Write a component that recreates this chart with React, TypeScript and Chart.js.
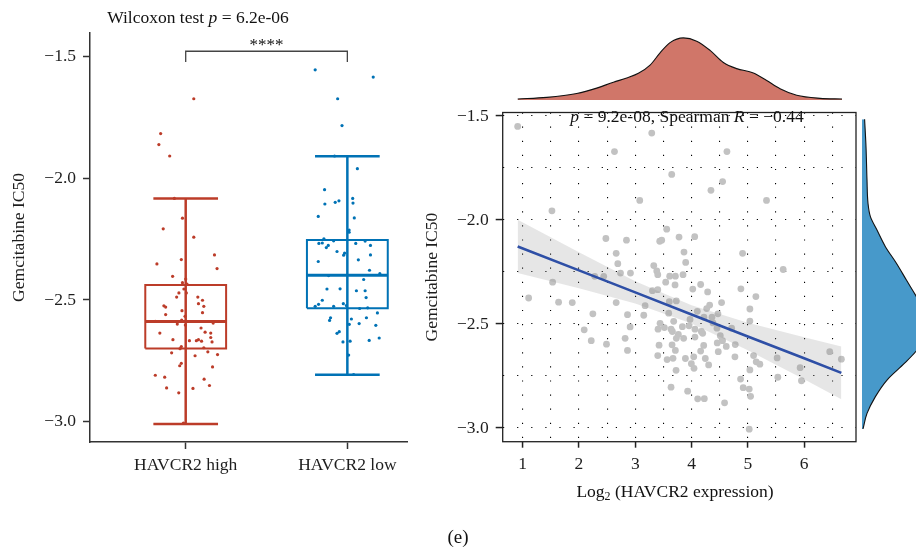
import React, { useEffect, useRef } from "react";
import { Chart, registerables } from "chart.js";

Chart.register(...registerables);

const FONT_FAMILY = "'Liberation Serif', 'DejaVu Serif', serif";
const FONT_SIZE = 17.5;
const RED = "#BC3C29";
const BLUE = "#0072B5";
const INK = "#1e1e1e";
const AXIS = "#333333";

// ---------------- Left panel: box plot ----------------
const groupLabels = ["HAVCR2 high", "HAVCR2 low"];
const groupColors = [RED, BLUE];

const highIC50 = [
  -1.674, -1.817, -1.862, -1.909, -2.083, -2.164, -2.208, -2.242, -2.352, -2.315,
  -2.371, -2.334, -2.403, -2.414, -2.429, -2.435, -2.455, -2.471, -2.471, -2.488,
  -2.488, -2.501, -2.515, -2.526, -2.524, -2.529, -2.544, -2.56, -2.552, -2.567,
  -2.583, -2.588, -2.595, -2.599, -2.603, -2.615, -2.632, -2.636, -2.636, -2.654,
  -2.663, -2.667, -2.667, -2.663, -2.669, -2.672, -2.691, -2.7, -2.696, -2.717,
  -2.713, -2.724, -2.729, -2.76, -2.77, -2.775, -2.809, -2.817, -2.825, -2.861,
  -2.863, -2.851, -2.881, -3.005,
];
const highJitter = [
  0.05, -0.155, -0.166, -0.099, -0.07, -0.02, -0.139, 0.05, -0.178, 0.178,
  0.194, -0.027, -0.081, 0.0, -0.02, 0.008, -0.011, -0.042, 0.004, -0.056,
  0.075, 0.104, 0.079, 0.112, -0.135, -0.124, -0.023, -0.124, 0.104, -0.004,
  -0.025, -0.188, 0.17, -0.052, -0.002, 0.095, 0.12, -0.16, 0.155, 0.155,
  -0.079, 0.023, 0.066, 0.079, 0.098, 0.163, -0.027, -0.035, 0.112, -0.087,
  0.137, 0.197, 0.058, -0.027, -0.037, 0.166, -0.188, -0.13, 0.114, -0.118,
  0.045, 0.147, -0.043, -0.014,
];
const lowIC50 = [
  -1.555, -1.585, -1.674, -1.784, -1.909, -1.961, -2.047, -2.106, -2.099, -2.093,
  -2.083, -2.102, -2.157, -2.163, -2.213, -2.222, -2.249, -2.268, -2.266, -2.276,
  -2.285, -2.257, -2.268, -2.258, -2.276, -2.301, -2.308, -2.316, -2.315, -2.342,
  -2.335, -2.378, -2.392, -2.4, -2.416, -2.455, -2.454, -2.462, -2.462, -2.501,
  -2.518, -2.526, -2.526, -2.515, -2.523, -2.49, -2.535, -2.532, -2.553, -2.573,
  -2.584, -2.578, -2.573, -2.6, -2.597, -2.604, -2.63, -2.637, -2.672, -2.669,
  -2.666, -2.656, -2.726, -2.806,
];
const lowJitter = [
  -0.199, 0.16, -0.06, -0.033, -0.079, 0.062, -0.141, -0.139, -0.075, -0.052,
  0.033, 0.035, -0.18, 0.043, 0.011, 0.011, -0.145, -0.176, -0.155, -0.118,
  -0.13, -0.085, 0.052, 0.11, 0.143, -0.064, -0.017, -0.023, 0.143, -0.18,
  0.068, 0.137, 0.201, -0.116, 0.101, -0.126, -0.045, 0.056, 0.11, -0.155,
  -0.178, -0.199, -0.085, -0.025, -0.006, 0.116, 0.076, 0.126, 0.186, -0.104,
  -0.11, 0.025, 0.118, 0.012, 0.073, 0.176, -0.05, -0.064, -0.027, 0.017,
  0.135, 0.197, 0.008, 0.039,
];

const boxMin = [-3.009, -2.807];
const boxQ1 = [-2.699, -2.534];
const boxMedian = [-2.588, -2.398];
const boxQ3 = [-2.438, -2.254];
const boxMax = [-2.083, -1.91];

const leftYTicks = [-3.0, -2.5, -2.0, -1.5];
const bracketY = -1.479;
const bracketFootY = -1.523;

// ---------------- Right panel: scatter ----------------
const expression = [
  0.911, 3.293, 2.631, 4.629, 3.648, 4.552, 4.345, 3.08, 5.332, 1.52,
  3.559, 2.478, 2.844, 3.435, 3.47, 3.778, 4.056, 2.661, 3.866, 4.907,
  2.69, 3.896, 3.329, 3.382, 2.738, 2.915, 3.4, 3.612, 3.713, 3.849,
  5.628, 1.532, 3.541, 3.707, 4.162, 4.877, 4.022, 3.4, 3.305, 4.286,
  5.143, 1.106, 1.638, 1.881, 2.661, 3.605, 3.73, 4.534, 3.175, 4.322,
  4.269, 5.037, 4.103, 2.247, 2.862, 3.151, 3.594, 4.469, 3.973, 4.221,
  4.363, 5.037, 3.683, 3.441, 4.381, 3.955, 2.909, 3.837, 3.405, 3.518,
  3.636, 4.061, 4.452, 4.712, 2.093, 3.66, 3.766, 4.198, 4.174, 4.511,
  2.82, 3.73, 3.86, 4.061, 2.218, 4.457, 4.551, 2.489, 3.423, 3.654,
  4.216, 4.617, 4.777, 2.862, 3.713, 4.162, 4.475, 6.455, 3.4, 3.566,
  3.671, 3.891, 4.039, 4.245, 4.771, 5.102, 5.521, 6.662, 3.997, 4.304,
  5.149, 5.214, 4.044, 3.725, 5.037, 5.929, 5.533, 4.871, 5.953, 3.636,
  4.918, 5.025, 3.931, 5.049, 4.109, 4.227, 4.587, 5.025, 2.28, 2.44,
];
const ic50 = [
  -1.55, -1.582, -1.671, -1.671, -1.781, -1.815, -1.857, -1.906, -1.906, -1.956,
  -2.044, -2.089, -2.097, -2.102, -2.097, -2.082, -2.08, -2.16, -2.154, -2.16,
  -2.21, -2.204, -2.219, -2.245, -2.255, -2.255, -2.263, -2.27, -2.27, -2.263,
  -2.238, -2.299, -2.299, -2.312, -2.31, -2.331, -2.332, -2.335, -2.34, -2.346,
  -2.368, -2.375, -2.395, -2.397, -2.397, -2.393, -2.389, -2.397, -2.412, -2.409,
  -2.426, -2.428, -2.439, -2.451, -2.455, -2.458, -2.448, -2.451, -2.478, -2.467,
  -2.467, -2.486, -2.487, -2.497, -2.495, -2.509, -2.514, -2.513, -2.525, -2.517,
  -2.525, -2.525, -2.52, -2.52, -2.528, -2.536, -2.55, -2.545, -2.536, -2.556,
  -2.569, -2.569, -2.569, -2.563, -2.58, -2.591, -2.58, -2.597, -2.602, -2.6,
  -2.603, -2.608, -2.599, -2.627, -2.627, -2.63, -2.633, -2.633, -2.652, -2.671,
  -2.665, -2.666, -2.658, -2.666, -2.658, -2.652, -2.663, -2.669, -2.691, -2.697,
  -2.682, -2.693, -2.713, -2.723, -2.721, -2.71, -2.756, -2.765, -2.773, -2.804,
  -2.806, -2.813, -2.823, -2.848, -2.86, -2.859, -2.879, -3.006, -2.271, -2.271,
];

const fitX = [0.911, 2, 3, 4, 5, 6, 6.662];
const fitY = [-2.127, -2.242, -2.348, -2.454, -2.56, -2.665, -2.735];
const bandUpper = [-1.999, -2.155, -2.294, -2.41, -2.494, -2.564, -2.608];
const bandLower = [-2.255, -2.328, -2.402, -2.498, -2.626, -2.766, -2.862];

const topDensityX = [
  0.911, 1.426, 1.957, 2.312, 2.608, 2.844, 3.051, 3.258, 3.435, 3.612, 3.849,
  4.085, 4.322, 4.558, 4.794, 5.09, 5.326, 5.563, 5.858, 6.272, 6.662,
];
const topDensityY = [
  0.005, 0.013, 0.032, 0.058, 0.087, 0.107, 0.13, 0.17, 0.23, 0.28, 0.303,
  0.287, 0.242, 0.183, 0.153, 0.132, 0.095, 0.055, 0.023, 0.008, 0.005,
];
const sideDensityIC50 = [
  -3.006, -2.933, -2.854, -2.776, -2.697, -2.635, -2.572, -2.509, -2.462, -2.384,
  -2.306, -2.227, -2.149, -2.071, -2.008, -1.945, -1.835, -1.679, -1.55,
];
const sideDensityValue = [
  0.005, 0.025, 0.067, 0.125, 0.213, 0.275, 0.317, 0.333, 0.317, 0.272,
  0.222, 0.172, 0.117, 0.075, 0.042, 0.03, 0.025, 0.02, 0.013,
];

// ---------------- layout (pixels) ----------------
const R_LEFT = 502.7;
const R_RIGHT = 856.7;
const R_TOP = 105;
const R_BOTTOM = 441.7;
const R_XMIN = 0.645;
const R_XMAX = 6.922;
const R_YMIN = -3.066;
const R_YMAX = -1.483;
const pxToX = (px: number) => R_XMIN + ((px - R_LEFT) * (R_XMAX - R_XMIN)) / (R_RIGHT - R_LEFT);
const pxToY = (py: number) => R_YMAX - ((py - R_TOP) * (R_YMAX - R_YMIN)) / (R_BOTTOM - R_TOP);

const fmt = (v: number) => (v < 0 ? "\u2212" : "") + Math.abs(v).toFixed(1);
const font = (size = FONT_SIZE) => ({ family: FONT_FAMILY, size, lineHeight: 1.2 });

function useChart(build: () => any) {
  const ref = useRef<HTMLCanvasElement | null>(null);
  useEffect(() => {
    if (!ref.current) return;
    const chart = new Chart(ref.current, build());
    return () => chart.destroy();
  }, []);
  return ref;
}

function LeftPanel() {
  const ref = useChart(() => {
    const values = [highIC50, lowIC50];
    const jitters = [highJitter, lowJitter];
    const datasets: any[] = [];
    values.forEach((vals, g) => {
      datasets.push({
        data: vals.map((v, i) => ({ x: g + 1 + jitters[g][i], y: v })),
        showLine: false,
        pointRadius: 1.6,
        pointBackgroundColor: groupColors[g],
        pointBorderColor: groupColors[g],
        pointBorderWidth: 0,
      });
    });
    const BOX_HALF = 0.25;
    const CAP_HALF = 0.2;
    groupLabels.forEach((_, g) => {
      const c = g + 1;
      const col = groupColors[g];
      const line = (pts: any[], w: number) => ({
        data: pts,
        borderColor: col,
        borderWidth: w,
        pointRadius: 0,
        tension: 0,
        fill: false,
      });
      datasets.push(line([{ x: c - BOX_HALF, y: boxMedian[g] }, { x: c + BOX_HALF, y: boxMedian[g] }], 3));
      datasets.push(
        line(
          [
            { x: c - BOX_HALF, y: boxQ1[g] },
            { x: c + BOX_HALF, y: boxQ1[g] },
            { x: c + BOX_HALF, y: boxQ3[g] },
            { x: c - BOX_HALF, y: boxQ3[g] },
            { x: c - BOX_HALF, y: boxQ1[g] },
          ],
          2
        )
      );
      datasets.push(line([{ x: c - CAP_HALF, y: boxMax[g] }, { x: c + CAP_HALF, y: boxMax[g] }], 2.5));
      datasets.push(line([{ x: c - CAP_HALF, y: boxMin[g] }, { x: c + CAP_HALF, y: boxMin[g] }], 2.5));
      datasets.push(line([{ x: c, y: boxMin[g] }, { x: c, y: boxMax[g] }], 2.5));
    });
    datasets.push({
      data: [
        { x: 1, y: bracketFootY },
        { x: 1, y: bracketY },
        { x: 2, y: bracketY },
        { x: 2, y: bracketFootY },
      ],
      borderColor: "#444",
      borderWidth: 1.3,
      pointRadius: 0,
      tension: 0,
      fill: false,
    });
    return {
      type: "line",
      data: { datasets },
      options: {
        responsive: false,
        animation: false,
        layout: { padding: { top: 33, right: 13, left: 0, bottom: 0 } },
        plugins: { legend: { display: false }, tooltip: { enabled: false } },
        scales: {
          x: {
            type: "linear",
            min: 0.408,
            max: 2.369,
            afterBuildTicks: (s: any) => {
              s.ticks = groupLabels.map((_, i) => ({ value: i + 1 }));
            },
            afterFit: (s: any) => {
              s.height = 68;
            },
            ticks: {
              autoSkip: false,
              maxRotation: 0,
              padding: 6,
              color: INK,
              font: font(),
              callback: (v: number) => groupLabels[Math.round(v) - 1] ?? "",
            },
            grid: { drawOnChartArea: false, drawTicks: true, tickLength: 7, tickColor: AXIS, tickWidth: 1.5 },
            border: { display: true, color: AXIS, width: 1.5 },
          },
          y: {
            type: "linear",
            min: -3.083,
            max: -1.404,
            afterBuildTicks: (s: any) => {
              s.ticks = leftYTicks.map((v) => ({ value: v }));
            },
            afterFit: (s: any) => {
              s.width = 90;
            },
            ticks: { autoSkip: false, padding: 7, color: INK, font: font(), callback: (v: number) => fmt(v) },
            grid: { drawOnChartArea: false, drawTicks: true, tickLength: 7, tickColor: AXIS, tickWidth: 1.5 },
            border: { display: true, color: AXIS, width: 1.5 },
            title: {
              display: true,
              text: "Gemcitabine IC50",
              color: INK,
              font: font(),
              padding: { top: 9, bottom: 0 },
            },
          },
        },
      },
    };
  });
  return (
    <canvas
      ref={ref}
      width={420}
      height={510}
      style={{ position: "absolute", left: 0, top: 0, width: 420, height: 510 }}
    />
  );
}

const framePlugin = {
  id: "frame",
  afterDraw(chart: any) {
    const { ctx, chartArea: a } = chart;
    ctx.save();
    ctx.strokeStyle = "#222";
    ctx.lineWidth = 1.3;
    ctx.strokeRect(a.left, a.top, a.right - a.left, a.bottom - a.top);
    ctx.restore();
  },
};

function ScatterPanel() {
  const CW = 440;
  const CH = 453;
  const CL = 420;
  const CT = 95;
  const ref = useChart(() => {
    const isHalf = (v: number) => Math.abs(v * 2 - Math.round(v * 2)) < 1e-6;
    const isInt = (v: number) => Math.abs(v - Math.round(v)) < 1e-6;
    const xTicks: number[] = [];
    for (let v = 1; v <= 6.5 + 1e-9; v += 0.5) xTicks.push(v);
    const yTicks: number[] = [];
    for (let v = -3; v <= -1.5 + 1e-9; v += 0.25) yTicks.push(v);
    return {
      type: "line",
      data: {
        datasets: [
          {
            data: fitX.map((x, i) => ({ x, y: fitY[i] })),
            borderColor: "#2E4FA6",
            borderWidth: 2.6,
            pointRadius: 0,
            tension: 0,
            fill: false,
          },
          {
            data: fitX.map((x, i) => ({ x, y: bandUpper[i] })),
            borderWidth: 0,
            borderColor: "rgba(0,0,0,0)",
            pointRadius: 0,
            tension: 0,
            fill: "+1",
            backgroundColor: "rgba(140,140,140,0.22)",
          },
          {
            data: fitX.map((x, i) => ({ x, y: bandLower[i] })),
            borderWidth: 0,
            borderColor: "rgba(0,0,0,0)",
            pointRadius: 0,
            tension: 0,
            fill: false,
          },
          {
            data: expression.map((x, i) => ({ x, y: ic50[i] })),
            showLine: false,
            pointRadius: 3.4,
            pointBackgroundColor: "#c2c2c2",
            pointBorderColor: "#c2c2c2",
            pointBorderWidth: 0,
          },
        ],
      },
      options: {
        responsive: false,
        animation: false,
        layout: { padding: { top: R_TOP - CT, right: CL + CW - R_RIGHT, left: 0, bottom: 0 } },
        plugins: { legend: { display: false }, tooltip: { enabled: false } },
        scales: {
          x: {
            type: "linear",
            min: R_XMIN,
            max: R_XMAX,
            afterBuildTicks: (s: any) => {
              s.ticks = xTicks.map((v) => ({ value: v }));
            },
            afterFit: (s: any) => {
              s.height = CT + CH - R_BOTTOM;
            },
            ticks: {
              autoSkip: false,
              maxRotation: 0,
              padding: 6,
              color: INK,
              font: font(),
              callback: (v: number) => (isInt(v) ? String(Math.round(v)) : ""),
            },
            grid: {
              drawOnChartArea: true,
              color: "#000",
              lineWidth: 1.1,
              drawTicks: true,
              tickLength: 6,
              tickWidth: 1.5,
              tickColor: (c: any) => (c.tick && isInt(c.tick.value) ? "#222" : "rgba(0,0,0,0)"),
            },
            border: { display: false, dash: [1.2, 12.9] },
          },
          y: {
            type: "linear",
            min: R_YMIN,
            max: R_YMAX,
            afterBuildTicks: (s: any) => {
              s.ticks = yTicks.map((v) => ({ value: v }));
            },
            afterFit: (s: any) => {
              s.width = R_LEFT - CL;
            },
            ticks: {
              autoSkip: false,
              padding: 7,
              color: INK,
              font: font(),
              callback: (v: number) => (isHalf(v) ? fmt(v) : ""),
            },
            grid: {
              drawOnChartArea: true,
              color: "#000",
              lineWidth: 1.1,
              drawTicks: true,
              tickLength: 7,
              tickWidth: 1.5,
              tickColor: (c: any) => (c.tick && isHalf(c.tick.value) ? "#222" : "rgba(0,0,0,0)"),
            },
            border: { display: false, dash: [1.2, 12.9] },
            title: {
              display: true,
              text: "Gemcitabine IC50",
              color: INK,
              font: font(),
              padding: { top: 2, bottom: 0 },
            },
          },
        },
      },
      plugins: [framePlugin],
    };
  });
  return (
    <canvas
      ref={ref}
      width={CW}
      height={CH}
      style={{ position: "absolute", left: CL, top: CT, width: CW, height: CH }}
    />
  );
}

function TopDensity() {
  const L = 500, T = 30, W = 360, H = 70;
  const ref = useChart(() => ({
    type: "line",
    data: {
      datasets: [
        {
          data: topDensityX.map((x, i) => ({ x, y: topDensityY[i] })),
          borderColor: "#111",
          borderWidth: 1.1,
          backgroundColor: "rgba(188,60,41,0.7)",
          fill: "origin",
          pointRadius: 0,
          cubicInterpolationMode: "monotone",
        },
      ],
    },
    options: {
      responsive: false,
      animation: false,
      layout: { padding: 0 },
      plugins: { legend: { display: false }, tooltip: { enabled: false } },
      scales: {
        x: { type: "linear", display: false, min: pxToX(L), max: pxToX(L + W) },
        y: { type: "linear", display: false, min: 0, max: 0.3 * (H / 61.5) },
      },
    },
  }));
  return <canvas ref={ref} width={W} height={H} style={{ position: "absolute", left: L, top: T, width: W, height: H }} />;
}

function SideDensity() {
  const L = 862, T = 100, W = 54, H = 346;
  const ref = useChart(() => ({
    type: "line",
    data: {
      datasets: [
        {
          data: sideDensityIC50.map((y, i) => ({ x: sideDensityValue[i], y })),
          borderColor: "#111",
          borderWidth: 1.1,
          backgroundColor: "rgba(0,114,181,0.72)",
          fill: "origin",
          pointRadius: 0,
          cubicInterpolationMode: "monotone",
        },
      ],
    },
    options: {
      indexAxis: "y",
      responsive: false,
      animation: false,
      layout: { padding: 0 },
      plugins: { legend: { display: false }, tooltip: { enabled: false } },
      scales: {
        x: { type: "linear", display: false, min: 0, max: 0.27 },
        y: { type: "linear", display: false, min: pxToY(T + H), max: pxToY(T) },
      },
    },
  }));
  return <canvas ref={ref} width={W} height={H} style={{ position: "absolute", left: L, top: T, width: W, height: H }} />;
}

const label = (x: number, y: number, size = FONT_SIZE): React.CSSProperties => ({
  position: "absolute",
  left: x,
  top: y,
  transform: "translate(-50%, -50%)",
  fontFamily: FONT_FAMILY,
  fontSize: size,
  lineHeight: 1,
  whiteSpace: "nowrap",
  color: "#111",
});

export default function App() {
  return (
    <div
      style={{
        position: "fixed",
        left: 0,
        top: 0,
        width: 916,
        height: 548,
        overflow: "hidden",
        background: "#fff",
      }}
    >
      <LeftPanel />
      <ScatterPanel />
      <TopDensity />
      <SideDensity />
      <div style={label(198, 18)}>
        Wilcoxon test <i>p</i> = 6.2e-06
      </div>
      <div style={label(266.5, 44, 17)}>****</div>
      <div style={label(687, 117)}>
        <i>p</i> = 9.2e-08, Spearman <i>R</i> = {"\u2212"}0.44
      </div>
      <div style={label(675, 492)}>
        Log<sub style={{ fontSize: 12, verticalAlign: "-3px", lineHeight: 0 }}>2</sub> (HAVCR2 expression)
      </div>
      <div style={label(458, 536, 19)}>(e)</div>
    </div>
  );
}
